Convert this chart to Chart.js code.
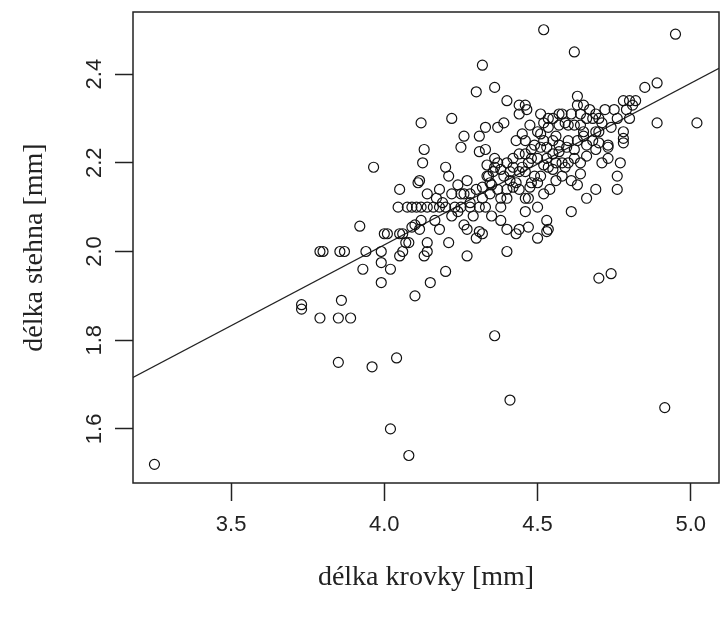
<!DOCTYPE html>
<html lang="cs">
<head>
<meta charset="UTF-8">
<title>délka krovky vs. délka stehna</title>
<style>
  html, body { margin: 0; padding: 0; background: #fff; }
  #graf { display: block; }
</style>
</head>
<body>
<canvas id="graf" width="720" height="620"></canvas>
<script src="https://cdn.jsdelivr.net/npm/chart.js"></script>
<script>
// délka krovky [mm] (x) a délka stehna [mm] (y)
const krovka = [
  3.25, 4.02, 4.08, 3.85, 3.96, 4.04, 3.73, 3.73, 3.86, 3.79, 3.85, 3.89, 4.10, 3.99, 3.93, 4.02,
  3.79, 3.80, 3.855, 3.87, 3.94, 3.99, 3.99, 4.05, 4.07, 4.13, 4.15, 4.01, 4.05, 4.70, 4.74, 4.36,
  4.41, 4.915, 4.20, 4.27, 4.40, 4.14, 4.21, 4.30, 4.32, 4.43, 4.50, 4.53, 4.06,
  4.52, 4.95, 4.62, 4.32, 4.30, 4.36, 4.85, 4.89, 4.89, 5.02, 4.12, 4.22, 4.40, 4.44, 4.46, 4.51,
  4.63, 4.63, 4.65, 4.78, 4.80, 4.82, 4.72, 4.75, 4.80, 4.70, 4.58, 4.60, 4.62, 4.64, 4.66, 4.68,
  4.71, 4.65, 4.69, 4.78, 4.78, 4.78, 4.73, 4.77, 4.76, 4.76, 4.71, 4.66, 4.64, 4.69, 4.66, 4.61,
  4.63, 4.61, 4.53, 4.535, 4.47, 4.44, 4.40, 4.38, 4.38, 4.46, 4.46, 4.40, 4.38, 4.32, 4.31, 4.14,
  4.08, 4.06, 4.09, 4.12, 4.18, 4.165,
  4.045, 4.075, 4.09, 4.105, 4.12, 4.14, 4.16, 4.18, 4.20, 4.23, 4.25, 4.28, 4.31,
  4.11, 4.125, 4.13, 4.20, 4.21, 4.24, 4.26, 4.28, 4.27, 4.25, 4.26, 4.31, 4.33, 4.37, 4.39, 4.31,
  4.335, 4.37, 4.40, 4.335, 4.355, 4.38, 4.32, 4.345, 4.41, 4.44, 4.46, 4.43, 4.48, 4.42, 4.44, 4.46,
  4.49, 4.51, 4.53, 4.53, 4.55, 4.57, 4.60, 4.62, 4.56, 4.58, 4.595, 4.63, 4.65, 4.43, 4.45, 4.475,
  4.51, 4.535, 4.57, 4.59, 4.535, 4.465, 4.44, 4.52, 4.535, 4.51, 4.49, 4.55, 4.475, 4.50, 4.345, 4.40,
  4.42, 4.52, 4.54, 4.64, 4.73, 4.73, 4.70, 4.69, 4.115, 4.05, 4.25, 3.965, 4.14, 3.92, 4.00, 4.10,
  4.115,
  4.17, 4.19, 4.22, 4.24, 4.26, 4.29, 4.22, 4.18, 4.28, 4.30, 4.33, 4.35, 4.36, 4.39, 4.42, 4.47,
  4.50, 4.48, 4.55, 4.57, 4.60, 4.62, 4.66, 4.68, 4.70, 4.74, 4.76, 4.79, 4.81, 4.67, 4.69, 4.56,
  4.52, 4.48, 4.45, 4.41, 4.37, 4.34, 4.36, 4.33, 4.46, 4.50, 4.52, 4.55, 4.57, 4.61, 4.64, 4.58,
  4.56, 4.59, 4.44, 4.47, 4.50, 4.35, 4.27
];
const stehno = [
  1.52, 1.60, 1.54, 1.75, 1.74, 1.76, 1.88, 1.87, 1.89, 1.85, 1.85, 1.85, 1.90, 1.93, 1.96, 1.96,
  2.00, 2.00, 2.00, 2.00, 2.00, 2.00, 1.975, 1.99, 2.02, 1.99, 1.93, 2.04, 2.04, 1.94, 1.95, 1.81,
  1.665, 1.648, 1.955, 1.99, 2.00, 2.00, 2.02, 2.03, 2.04, 2.04, 2.03, 2.045, 2.00,
  2.50, 2.49, 2.45, 2.42, 2.36, 2.37, 2.37, 2.38, 2.29, 2.29, 2.29, 2.30, 2.34, 2.33, 2.33, 2.31,
  2.35, 2.33, 2.33, 2.34, 2.34, 2.34, 2.32, 2.32, 2.30, 2.30, 2.31, 2.285, 2.285, 2.285, 2.30, 2.30,
  2.29, 2.27, 2.27, 2.27, 2.255, 2.245, 2.24, 2.20, 2.17, 2.14, 2.20, 2.215, 2.20, 2.14, 2.12, 2.16,
  2.15, 2.09, 2.07, 2.05, 2.055, 2.05, 2.05, 2.07, 2.10, 2.09, 2.12, 2.12, 2.12, 2.12, 2.045, 2.02,
  2.02, 2.04, 2.055, 2.07, 2.05, 2.07,
  2.10, 2.10, 2.10, 2.10, 2.10, 2.10, 2.10, 2.10, 2.10, 2.10, 2.10, 2.10, 2.10,
  2.155, 2.20, 2.23, 2.19, 2.17, 2.15, 2.13, 2.13, 2.16, 2.235, 2.26, 2.26, 2.28, 2.28, 2.29, 2.225,
  2.195, 2.20, 2.20, 2.17, 2.18, 2.185, 2.145, 2.155, 2.18, 2.18, 2.18, 2.155, 2.155, 2.21, 2.22, 2.22,
  2.24, 2.235, 2.235, 2.21, 2.22, 2.225, 2.20, 2.21, 2.20, 2.20, 2.235, 2.25, 2.26, 2.25, 2.265, 2.285,
  2.265, 2.28, 2.285, 2.29, 2.30, 2.32, 2.31, 2.195, 2.19, 2.17, 2.17, 2.185, 2.145, 2.155, 2.13, 2.14,
  2.145, 2.13, 2.14, 2.175, 2.21, 2.235, 2.245, 2.23, 2.16, 2.14, 2.13, 2.19, 2.13, 2.057, 2.04, 2.06,
  2.05,
  2.12, 2.11, 2.08, 2.09, 2.06, 2.08, 2.13, 2.14, 2.11, 2.14, 2.10, 2.15, 2.19, 2.17, 2.19, 2.20,
  2.21, 2.23, 2.25, 2.24, 2.25, 2.23, 2.24, 2.25, 2.27, 2.28, 2.30, 2.32, 2.33, 2.32, 2.31, 2.26,
  2.25, 2.21, 2.19, 2.16, 2.14, 2.17, 2.21, 2.23, 2.25, 2.27, 2.29, 2.30, 2.31, 2.31, 2.31, 2.17,
  2.16, 2.19, 2.14, 2.12, 2.10, 2.08, 2.05
];

// regresní přímka (konce na okrajích grafu)
const primkaX = [3.18, 5.092];
const primkaY = [1.716, 2.413];

const xTicks = [3.5, 4.0, 4.5, 5.0];
const xTickLabels = ['3.5', '4.0', '4.5', '5.0'];
const yTicks = [1.6, 1.8, 2.0, 2.2, 2.4];
const yTickLabels = ['1.6', '1.8', '2.0', '2.2', '2.4'];

const xTitle = 'délka krovky [mm]';
const yTitle = 'délka stehna [mm]';

const body = krovka.map((v, i) => ({ x: v, y: stehno[i] }));
const primka = primkaX.map((v, i) => ({ x: v, y: primkaY[i] }));

// rámeček a popisky ve stylu R
const rStyle = {
  id: 'rStyle',
  afterDraw(chart) {
    const ctx = chart.ctx;
    const a = chart.chartArea;
    const sx = chart.scales.x, sy = chart.scales.y;
    ctx.save();
    ctx.strokeStyle = '#222';
    ctx.lineWidth = 1.5;
    ctx.strokeRect(a.left, a.top, a.right - a.left, a.bottom - a.top);

    ctx.fillStyle = '#222';
    ctx.font = '22px "Liberation Sans", Arial, sans-serif';
    ctx.textAlign = 'center';
    ctx.textBaseline = 'middle';
    xTicks.forEach((v, i) => {
      ctx.fillText(xTickLabels[i], sx.getPixelForValue(v), 525);
    });
    yTicks.forEach((v, i) => {
      ctx.save();
      ctx.translate(95, sy.getPixelForValue(v));
      ctx.rotate(-Math.PI / 2);
      ctx.fillText(yTickLabels[i], 0, 0);
      ctx.restore();
    });

    ctx.font = '28px "Liberation Serif", "Times New Roman", serif';
    ctx.fillText(xTitle, (a.left + a.right) / 2, 578);
    ctx.save();
    ctx.translate(35, (a.top + a.bottom) / 2);
    ctx.rotate(-Math.PI / 2);
    ctx.fillText(yTitle, 0, 0);
    ctx.restore();
    ctx.restore();
  }
};

new Chart(document.getElementById('graf'), {
  type: 'scatter',
  data: {
    datasets: [
      {
        data: body,
        pointStyle: 'circle',
        pointRadius: 5,
        pointBorderWidth: 1.2,
        borderColor: '#111',
        backgroundColor: 'rgba(0,0,0,0)'
      },
      {
        type: 'line',
        data: primka,
        showLine: true,
        pointRadius: 0,
        borderColor: '#222',
        borderWidth: 1.2,
        fill: false
      }
    ]
  },
  options: {
    responsive: false,
    animation: false,
    devicePixelRatio: 1,
    layout: { autoPadding: false, padding: { top: 12, right: 1, left: 0, bottom: 0 } },
    plugins: { legend: { display: false }, tooltip: { enabled: false } },
    scales: {
      x: {
        type: 'linear',
        min: 3.18,
        max: 5.092,
        afterBuildTicks: s => { s.ticks = xTicks.map(v => ({ value: v })); },
        afterFit: s => { s.height = 137; },
        ticks: { display: false },
        border: { display: false },
        grid: { drawOnChartArea: false, drawTicks: true, tickLength: 18, tickColor: '#222', tickWidth: 1.5 }
      },
      y: {
        type: 'linear',
        min: 1.478,
        max: 2.54,
        afterBuildTicks: s => { s.ticks = yTicks.map(v => ({ value: v })); },
        afterFit: s => { s.width = 133; },
        ticks: { display: false },
        border: { display: false },
        grid: { drawOnChartArea: false, drawTicks: true, tickLength: 18, tickColor: '#222', tickWidth: 1.5 }
      }
    }
  },
  plugins: [rStyle]
});
</script>
</body>
</html>
